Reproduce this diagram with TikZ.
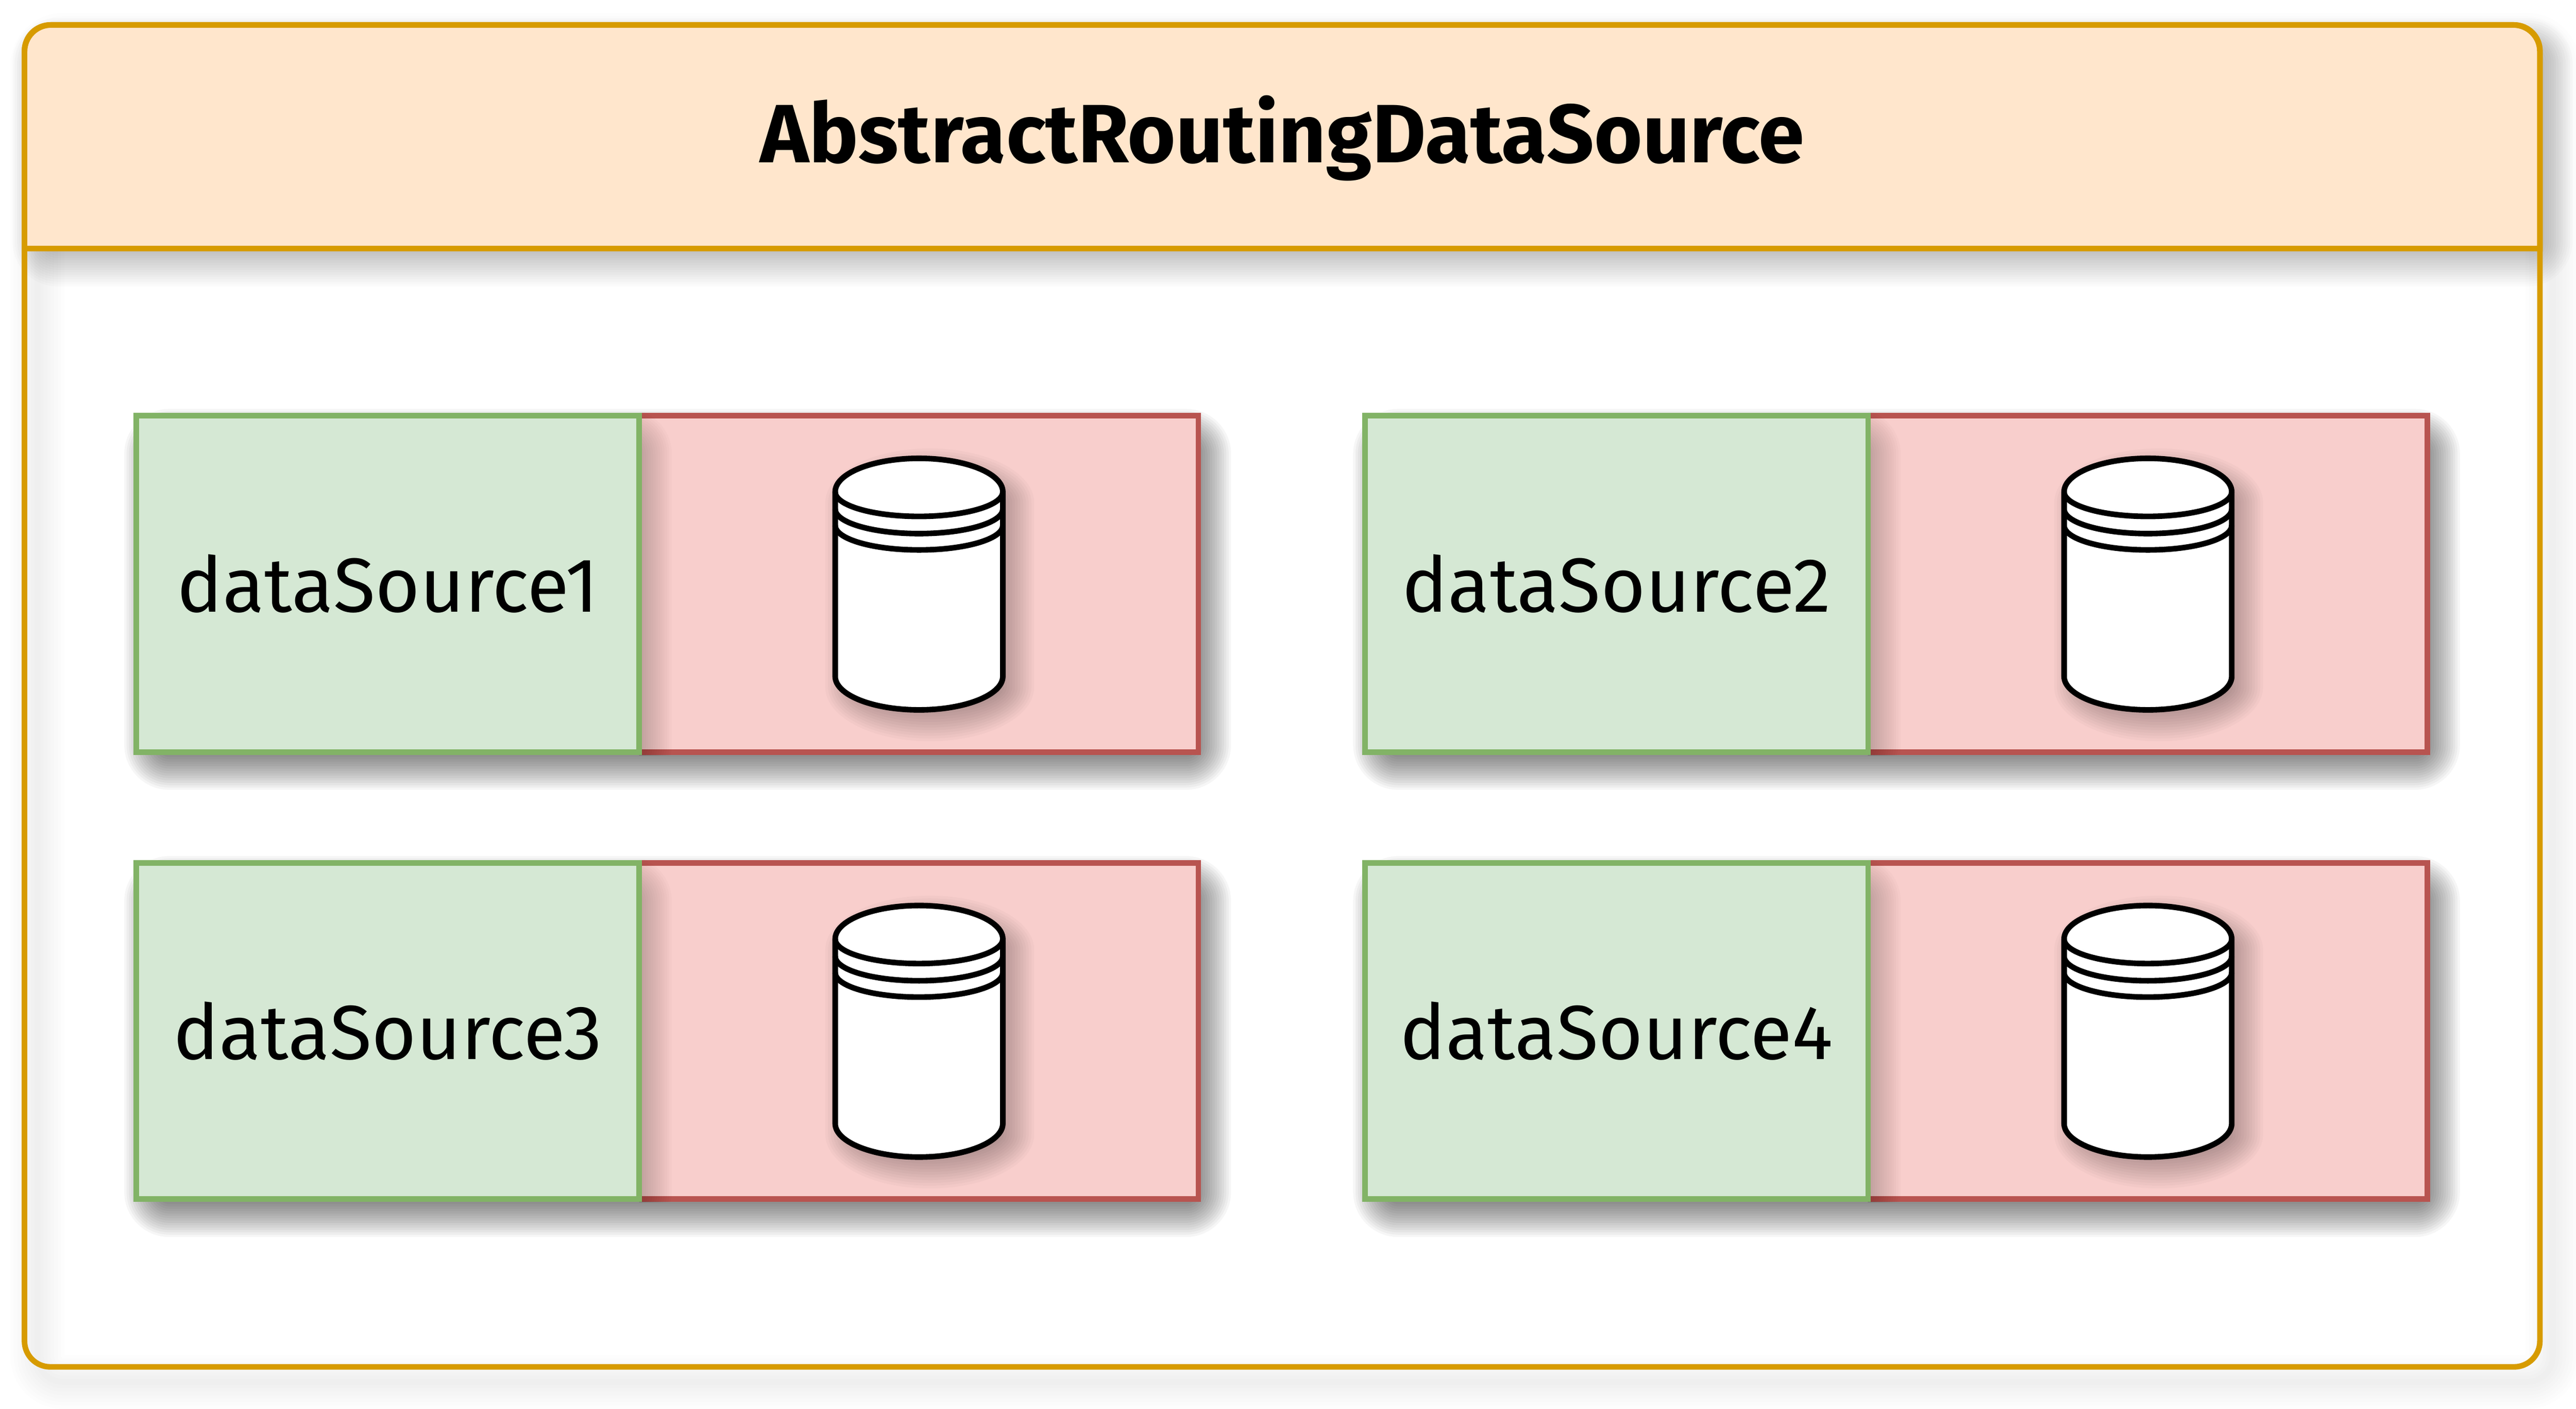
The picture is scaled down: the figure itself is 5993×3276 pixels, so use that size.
\documentclass[tikz,border=0pt]{standalone}
\usepackage{fontspec}
\setmainfont{Fira Sans}
\usepackage{tikz}
\usetikzlibrary{positioning}
\definecolor{lanecolor}{HTML}{D79B00}
\definecolor{lanefill}{HTML}{FFE6CC}
\definecolor{namecolor}{HTML}{82B366}
\definecolor{namefill}{HTML}{D5E8D4}
\definecolor{storecolor}{HTML}{B85450}
\definecolor{storefill}{HTML}{F8CECC}
\tikzstyle{lane}=[draw=lanecolor,line width=1.3mm,rounded corners=6mm,inner sep=0,outer sep=0]
\tikzstyle{namebox}=[draw=namecolor,fill=namefill,line width=1.3mm,minimum height=78.2mm,inner sep=0,outer sep=0,font=\fontsize{50.8}{56}\selectfont]
\tikzstyle{storebox}=[draw=storecolor,fill=storefill,line width=1.3mm,minimum height=78.2mm,inner sep=0,outer sep=0]
\tikzstyle{drum}=[draw=black,line width=1.3mm,line join=round]
% soft shadow of a box: x1, y1, x2, y2, opacity of one layer
\newcommand{\softbox}[5]{
  \foreach \k in {0,...,19}
  {
    \pgfmathsetmacro{\s}{52*(1-2*\k/19)}
    \fill[black,opacity=#5,rounded corners=(\s+53)*0.1mm]
      ({#1+24-\s},{#2+36-\s}) rectangle ({#3+24+\s},{#4+36+\s});
  }
}
\begin{document}
\begin{tikzpicture}[x=0.1mm,y=-0.1mm]
\useasboundingbox (0,0) rectangle (5993,3276);
\fill[white] (0,0) rectangle (5993,3276);
% the faint shadow of the lane's outline
\foreach \w in {14,30,...,126}
  \draw[black,opacity=.008,line width=\w*0.1mm,rounded corners=6mm] (87,93) rectangle (5939,3214);
\softbox{57}{58}{5909}{578}{.0156}
\draw[lane,fill=lanefill,sharp corners] (57,578) -- (57,120) arc (180:90:6.2mm) -- (5847,58) arc (90:0:6.2mm) -- (5909,578) -- cycle;
\node[lane,minimum width=585.2mm,minimum height=312.1mm,anchor=north west] (lane) at (57,58) {};
\node[font=\fontsize{54.8}{60}\selectfont\bfseries] (title) at (2983,322) {AbstractRoutingDataSource};
\foreach \px/\py/\n in {317/967/1,3176/967/2,317/2007/3,3176/2007/4}
{
  \softbox{\px}{\py}{\px+2471}{\py+782}{.034}
  \node[storebox,minimum width=130.1mm,anchor=north west] (store\n) at ({\px+1170},\py) {};
  % the name box throws a lighter shadow, seen only on the store box
  \begin{scope}
    \clip ({\px+1170},{\py-7}) rectangle ({\px+2478},{\py+789});
    \softbox{\px}{\py}{\px+1170}{\py+782}{.017}
  \end{scope}
  \node[namebox,minimum width=117mm,anchor=north east] (name\n) at (store\n.north west) {dataSource\n};
  % the drum, with its rings
  \begin{scope}[shift={(\px,\py)}]
    \foreach \k in {0,...,15}
    {
      \pgfmathsetmacro{\s}{48*(1-2*\k/15)}
      \fill[black,opacity=.022,shift={(25,25)}] ({1626-\s},177) arc (180:360:{195+\s} and {78+\s}) -- ({2016+\s},606) arc (0:180:{195+\s} and {78+\s}) -- cycle;
    }
    \draw[drum,fill=white] (1626,177) arc (180:360:195 and 78) -- (2016,606) arc (0:180:195 and 78) -- cycle;
    \foreach \r in {177,217,255}
      \draw[drum] (1626,\r) arc (180:0:195 and 57);
  \end{scope}
}
\end{tikzpicture}
\end{document}
